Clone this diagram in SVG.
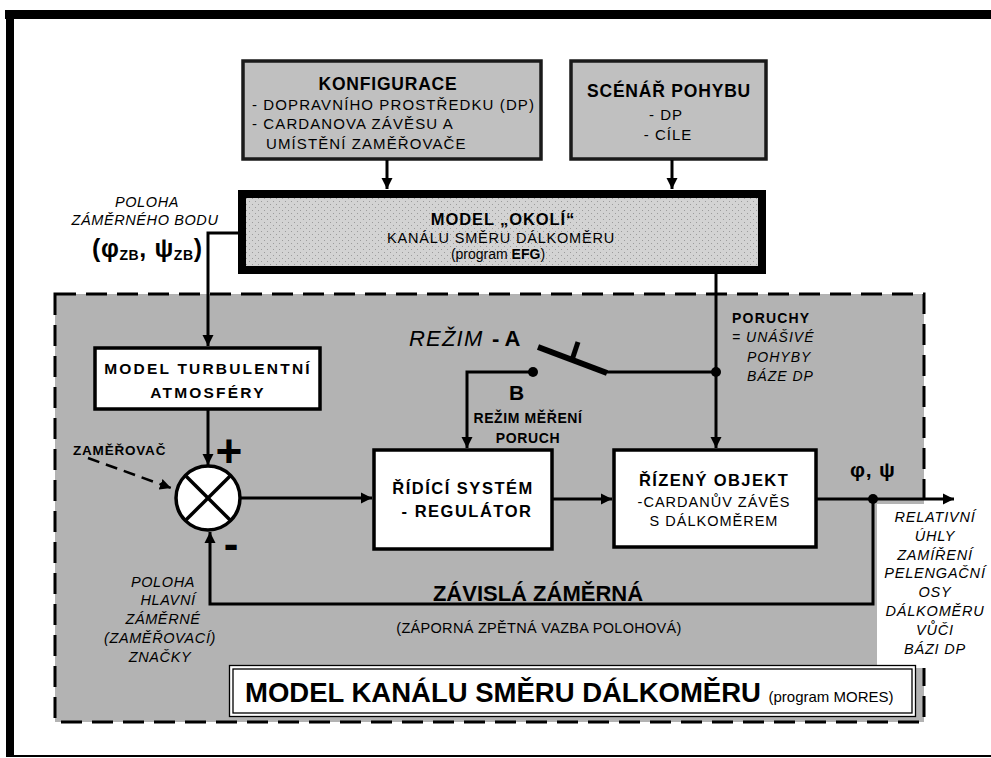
<svg xmlns="http://www.w3.org/2000/svg" width="991" height="758" viewBox="0 0 991 758">
<defs>
<style>
text { font-family: "Liberation Sans", Arial, sans-serif; fill: #000; }
.b { font-weight: bold; }
.i { font-style: italic; }
.c { text-anchor: middle; }
.ln { fill: none; stroke: #000; stroke-width: 3; }
.wbox { fill: #fff; stroke: #000; stroke-width: 3.5; }
.gbox { fill: #c0c0c0; stroke: #1a1a1a; stroke-width: 3.5; }
.dot { fill: #000; }
</style>
<marker id="ah" markerUnits="userSpaceOnUse" markerWidth="12" markerHeight="12" refX="11" refY="6" orient="auto">
<path d="M0,0.5 L11,6 L0,11.5 z" fill="#000"/>
</marker>
<pattern id="dots" width="6" height="6" patternUnits="userSpaceOnUse">
<rect width="6" height="6" fill="#d3d3d3"/>
<rect x="0" y="0" width="1" height="1" fill="#9c9c9c"/>
<rect x="3" y="3" width="1" height="1" fill="#9c9c9c"/>
</pattern>
</defs>

<rect x="0" y="0" width="991" height="758" fill="#fff"/>

<g id="frame">
<rect x="5" y="10" width="986" height="9" fill="#000"/>
<rect x="6" y="10" width="8" height="747" fill="#000"/>
<rect x="6" y="755" width="985" height="2" fill="#000"/>
</g>

<g id="model-kanalu-region">
<rect x="55" y="294" width="869" height="428" fill="#b3b3b3" stroke="#000" stroke-width="3" stroke-dasharray="21 10"/>
<rect x="877" y="504" width="114" height="164" fill="#fff"/>
</g>

<g id="konfigurace">
<rect class="gbox" x="243" y="61" width="298" height="98"/>
<text class="b c" x="388" y="90" font-size="17.5" letter-spacing="0.8">KONFIGURACE</text>
<text x="252" y="110" font-size="15" letter-spacing="1.1">- DOPRAVNÍHO PROSTŘEDKU (DP)</text>
<text x="252" y="129" font-size="15" letter-spacing="1.1">- CARDANOVA ZÁVĚSU A</text>
<text x="266" y="149" font-size="15" letter-spacing="1.1">UMÍSTĚNÍ ZAMĚŘOVAČE</text>
</g>

<g id="scenar">
<rect class="gbox" x="571" y="61" width="195" height="98"/>
<text class="b c" x="669" y="97" font-size="17.5" letter-spacing="0.8">SCÉNÁŘ POHYBU</text>
<text class="c" x="666" y="120" font-size="15" letter-spacing="1">- DP</text>
<text class="c" x="668" y="140" font-size="15" letter-spacing="1">- CÍLE</text>
</g>

<g id="model-okoli">
<rect x="242" y="194" width="520" height="76" fill="url(#dots)" stroke="#000" stroke-width="8"/>
<text class="b c" x="503" y="225" font-size="16.5" letter-spacing="0.9">MODEL „OKOLÍ“</text>
<text class="c" x="501" y="243" font-size="14.5" letter-spacing="0.8">KANÁLU SMĚRU DÁLKOMĚRU</text>
<text class="c" x="498" y="259" font-size="14">(program <tspan class="b">EFG</tspan>)</text>
</g>

<g id="poloha-zb">
<text class="i c" x="147" y="207" font-size="14.5" letter-spacing="0.6">POLOHA</text>
<text class="i c" x="145" y="225" font-size="14.5" letter-spacing="0.6">ZÁMĚRNÉHO BODU</text>
<text class="b" x="92" y="257" font-size="25" letter-spacing="0.6">(φ<tspan font-size="14" dy="3">ZB</tspan><tspan dy="-3">, ψ</tspan><tspan font-size="14" dy="3">ZB</tspan><tspan dy="-3">)</tspan></text>
</g>

<g id="turbulence">
<rect class="wbox" x="95" y="348" width="225" height="61"/>
<text class="b c" x="208" y="374" font-size="15.5" letter-spacing="2.2">MODEL TURBULENTNÍ</text>
<text class="b c" x="208" y="398" font-size="15.5" letter-spacing="2.2">ATMOSFÉRY</text>
</g>

<g id="summing-junction">
<circle cx="208" cy="498" r="32" fill="#fff" stroke="#000" stroke-width="3.5"/>
<line x1="185.4" y1="475.4" x2="230.6" y2="520.6" stroke="#000" stroke-width="3.5"/>
<line x1="230.6" y1="475.4" x2="185.4" y2="520.6" stroke="#000" stroke-width="3.5"/>
<text class="b c" x="229" y="467" font-size="46">+</text>
<text class="b c" x="231" y="559" font-size="44">-</text>
<text class="b" x="73" y="455" font-size="13.5" letter-spacing="0.8">ZAMĚŘOVAČ</text>
</g>

<g id="switch">
<text class="i" x="409" y="346" font-size="22" letter-spacing="1.2">REŽIM</text>
<text class="b" x="492" y="346" font-size="22">- A</text>
<text class="b" x="509" y="400" font-size="21">B</text>
<text class="b c" x="528" y="423" font-size="14" letter-spacing="0.6">REŽIM MĚŘENÍ</text>
<text class="b c" x="528" y="443" font-size="14" letter-spacing="0.6">PORUCH</text>
</g>

<g id="poruchy">
<text class="b" x="732" y="323" font-size="14" letter-spacing="1.2">PORUCHY</text>
<text class="i" x="732" y="342" font-size="14" letter-spacing="1">= UNÁŠIVÉ</text>
<text class="i" x="747" y="362" font-size="14" letter-spacing="1">POHYBY</text>
<text class="i" x="747" y="381" font-size="14" letter-spacing="1">BÁZE DP</text>
</g>

<g id="ridici-system">
<rect class="wbox" x="374" y="450" width="178" height="99"/>
<text class="b c" x="463" y="494" font-size="16.5" letter-spacing="1.5">ŘÍDÍCÍ SYSTÉM</text>
<text class="b c" x="467" y="517" font-size="16.5" letter-spacing="1.5">- REGULÁTOR</text>
</g>

<g id="rizeny-objekt">
<rect class="wbox" x="614" y="450" width="202" height="97"/>
<text class="b c" x="714" y="486" font-size="16.5" letter-spacing="1.4">ŘÍZENÝ OBJEKT</text>
<text class="c" x="714" y="507" font-size="14.5" letter-spacing="1">-CARDANŮV ZÁVĚS</text>
<text class="c" x="714" y="526" font-size="14.5" letter-spacing="1">S DÁLKOMĚREM</text>
</g>

<g id="vystup">
<text class="b" x="850" y="477" font-size="21" letter-spacing="0.8">φ, ψ</text>
<text class="i c" x="935" y="522" font-size="14.5" letter-spacing="0.8">RELATIVNÍ</text>
<text class="i c" x="935" y="541" font-size="14.5" letter-spacing="0.8">ÚHLY</text>
<text class="i c" x="935" y="560" font-size="14.5" letter-spacing="0.8">ZAMÍŘENÍ</text>
<text class="i c" x="935" y="578" font-size="14.5" letter-spacing="0.8">PELENGAČNÍ</text>
<text class="i c" x="935" y="597" font-size="14.5" letter-spacing="0.8">OSY</text>
<text class="i c" x="935" y="616" font-size="14.5" letter-spacing="0.8">DÁLKOMĚRU</text>
<text class="i c" x="935" y="635" font-size="14.5" letter-spacing="0.8">VŮČI</text>
<text class="i c" x="935" y="654" font-size="14.5" letter-spacing="0.8">BÁZI DP</text>
</g>

<g id="zpetna-vazba">
<text class="b c" x="538" y="601" font-size="22">ZÁVISLÁ ZÁMĚRNÁ</text>
<text class="c" x="539" y="633" font-size="14.5" letter-spacing="0.3">(ZÁPORNÁ ZPĚTNÁ VAZBA POLOHOVÁ)</text>
</g>

<g id="poloha-znacky">
<text class="i c" x="163" y="587" font-size="14.5" letter-spacing="0.6">POLOHA</text>
<text class="i c" x="168" y="605" font-size="14.5" letter-spacing="0.6">HLAVNÍ</text>
<text class="i c" x="163" y="624" font-size="14.5" letter-spacing="0.6">ZÁMĚRNÉ</text>
<text class="i c" x="160" y="643" font-size="14.5" letter-spacing="0.6">(ZAMĚŘOVACÍ)</text>
<text class="i c" x="160" y="662" font-size="14.5" letter-spacing="0.6">ZNAČKY</text>
</g>

<g id="model-kanalu-title">
<rect x="229.5" y="665.5" width="686" height="51" fill="#fff" stroke="#000" stroke-width="1.3"/>
<rect x="233" y="669" width="679" height="44" fill="none" stroke="#000" stroke-width="1.3"/>
<text class="b" x="245" y="702" font-size="27.5">MODEL KANÁLU SMĚRU DÁLKOMĚRU <tspan font-weight="normal" font-size="15">(program MORES)</tspan></text>
</g>

<g id="connectors">
<line class="ln" x1="387" y1="160" x2="387" y2="189" marker-end="url(#ah)"/>
<line class="ln" x1="672" y1="160" x2="672" y2="189" marker-end="url(#ah)"/>
<path class="ln" d="M238,233 H208 V346" marker-end="url(#ah)"/>
<path class="ln" d="M716,274 V448" marker-end="url(#ah)"/>
<circle class="dot" cx="716" cy="372" r="5"/>
<line class="ln" x1="603" y1="372" x2="716" y2="372"/>
<line x1="538" y1="347" x2="607" y2="373" stroke="#000" stroke-width="6"/>
<line x1="572" y1="360" x2="578" y2="342" stroke="#000" stroke-width="5"/>
<circle class="dot" cx="533" cy="372" r="5"/>
<path class="ln" d="M533,372 H467 V448" marker-end="url(#ah)"/>
<path class="ln" d="M208,410 V465" marker-end="url(#ah)"/>
<path class="ln" d="M241,498 H372" marker-end="url(#ah)"/>
<path class="ln" d="M553,499 H612" marker-end="url(#ah)"/>
<path class="ln" d="M817,499 H954" marker-end="url(#ah)"/>
<circle class="dot" cx="873" cy="499" r="5"/>
<path class="ln" d="M873,499 V604 H210 V532" marker-end="url(#ah)"/>
<path d="M88,458 L171,488" fill="none" stroke="#000" stroke-width="2.5" stroke-dasharray="12 7" marker-end="url(#ah)"/>
</g>
</svg>
